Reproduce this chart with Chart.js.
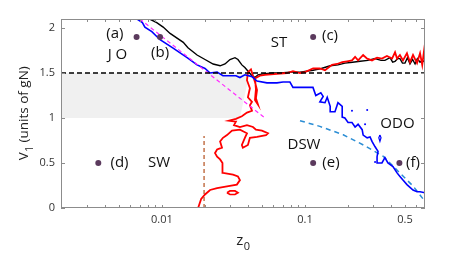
<!DOCTYPE html>
<html>
<head>
<meta charset="utf-8">
<script src="https://cdn.jsdelivr.net/npm/chart.js@4.4.1/dist/chart.umd.min.js"></script>
<style>
  html, body { margin: 0; padding: 0; background: #fff; }
  canvas { display: block; }
</style>
</head>
<body>
<canvas id="chart" width="469" height="256"></canvas>
<script>
// ------------------------------------------------------------
// axes
// ------------------------------------------------------------
const xRange = [0.00197, 0.69];
const yRange = [0, 2.1];
const xTickVals = [0.01, 0.1, 0.5];
const xTickText = ["0.01", "0.1", "0.5"];
const xMinorVals = [0.003, 0.004, 0.005, 0.006, 0.007, 0.008, 0.009,
                    0.02, 0.03, 0.04, 0.05, 0.06, 0.07, 0.08, 0.09,
                    0.2, 0.3, 0.4, 0.5, 0.6];
const yTickVals = [0, 0.5, 1, 1.5, 2];
const yTickText = ["0", "0.5", "1", "1.5", "2"];

// ------------------------------------------------------------
// curves  [z0, V1]
// ------------------------------------------------------------
const blackCurve = [
  [0.0082, 2.10], [0.0092, 2.06], [0.0102, 2.01], [0.0114, 1.94], [0.0141, 1.84],
  [0.0152, 1.78], [0.0176, 1.70], [0.0200, 1.65], [0.0228, 1.60], [0.0255, 1.58],
  [0.0276, 1.60], [0.0299, 1.65], [0.0324, 1.67], [0.0340, 1.65], [0.0362, 1.59],
  [0.0380, 1.56], [0.0400, 1.52], [0.0426, 1.47], [0.0447, 1.45], [0.0469, 1.48],
  [0.0508, 1.49], [0.0590, 1.50], [0.0668, 1.50], [0.0790, 1.51], [0.0923, 1.51],
  [0.1140, 1.53], [0.1300, 1.55], [0.1500, 1.58], [0.1700, 1.59], [0.1900, 1.61],
  [0.2150, 1.62], [0.2430, 1.63], [0.2750, 1.64], [0.3090, 1.66], [0.3400, 1.64],
  [0.3620, 1.64], [0.3930, 1.67], [0.4100, 1.62], [0.4260, 1.63], [0.4450, 1.66],
  [0.4610, 1.66], [0.4800, 1.61], [0.5000, 1.61], [0.5200, 1.67], [0.5420, 1.60],
  [0.5650, 1.65], [0.5880, 1.60], [0.6100, 1.66], [0.6370, 1.62], [0.6600, 1.64],
  [0.6900, 1.62]
];

const redCurve = [
  [0.0179, 0.00], [0.0188, 0.10], [0.0200, 0.15], [0.0217, 0.20], [0.0243, 0.22],
  [0.0285, 0.24], [0.0334, 0.26], [0.0351, 0.31], [0.0340, 0.35], [0.0314, 0.37],
  [0.0267, 0.39], [0.0263, 0.45], [0.0267, 0.50], [0.0255, 0.54], [0.0243, 0.57],
  [0.0235, 0.61], [0.0243, 0.65], [0.0263, 0.67], [0.0255, 0.74], [0.0267, 0.78],
  [0.0285, 0.81], [0.0309, 0.86], [0.0351, 0.87], [0.0393, 0.83], [0.0380, 0.78],
  [0.0362, 0.70], [0.0368, 0.67], [0.0399, 0.70], [0.0412, 0.78], [0.0462, 0.79],
  [0.0534, 0.81], [0.0551, 0.83], [0.0500, 0.86], [0.0454, 0.87], [0.0433, 0.90],
  [0.0393, 0.92], [0.0351, 0.90], [0.0319, 0.92], [0.0329, 0.96], [0.0294, 0.97],
  [0.0329, 0.99], [0.0362, 1.02], [0.0393, 1.06], [0.0426, 1.08], [0.0412, 1.14],
  [0.0426, 1.18], [0.0399, 1.23], [0.0412, 1.33], [0.0393, 1.42], [0.0399, 1.51],
  [0.0419, 1.54], [0.0447, 1.40], [0.0462, 1.31], [0.0454, 1.22], [0.0469, 1.15],
  [0.0447, 1.20], [0.0454, 1.32], [0.0447, 1.44], [0.0484, 1.47], [0.0525, 1.48],
  [0.0637, 1.49], [0.0748, 1.50], [0.0824, 1.52], [0.0923, 1.50], [0.1000, 1.51],
  [0.1140, 1.55], [0.1270, 1.55], [0.1380, 1.53], [0.1545, 1.59], [0.1675, 1.60],
  [0.1820, 1.62], [0.1970, 1.63], [0.2130, 1.64], [0.2240, 1.68], [0.2350, 1.64],
  [0.2550, 1.70], [0.2720, 1.66], [0.2940, 1.64], [0.3190, 1.67], [0.3450, 1.66],
  [0.3740, 1.69], [0.4060, 1.66], [0.4260, 1.73], [0.4400, 1.66], [0.4610, 1.70],
  [0.4840, 1.64], [0.5160, 1.72], [0.5420, 1.62], [0.5690, 1.70], [0.6070, 1.61],
  [0.6370, 1.72], [0.6600, 1.59], [0.6800, 1.75], [0.6900, 1.64]
];
const redBlob = [
  [0.0285, 0.17], [0.0299, 0.19], [0.0324, 0.19], [0.0340, 0.17],
  [0.0324, 0.15], [0.0299, 0.15], [0.0285, 0.17]
];

const blueCurve = [
  [0.0067, 2.10], [0.0073, 2.06], [0.0076, 2.01], [0.0085, 1.96], [0.0097, 1.87],
  [0.0119, 1.78], [0.0150, 1.67], [0.0176, 1.59], [0.0200, 1.55], [0.0217, 1.50],
  [0.0243, 1.51], [0.0267, 1.47], [0.0329, 1.47], [0.0351, 1.45], [0.0380, 1.48],
  [0.0426, 1.46], [0.0462, 1.41], [0.0542, 1.39], [0.0637, 1.39], [0.0702, 1.40],
  [0.0785, 1.40], [0.0824, 1.34], [0.1137, 1.34], [0.119, 1.25], [0.129, 1.28],
  [0.134, 1.24], [0.127, 1.18], [0.138, 1.17], [0.143, 1.23], [0.150, 1.13],
  [0.150, 1.07], [0.162, 1.07], [0.170, 1.17], [0.182, 1.13], [0.182, 1.01],
  [0.190, 1.00], [0.200, 0.95], [0.213, 0.95], [0.224, 0.90], [0.235, 0.93],
  [0.251, 0.87], [0.255, 0.81], [0.272, 0.78], [0.285, 0.79], [0.294, 0.74],
  [0.309, 0.68], [0.324, 0.63], [0.319, 0.57], [0.319, 0.50], [0.345, 0.50],
  [0.362, 0.56], [0.380, 0.50], [0.412, 0.46], [0.440, 0.39], [0.461, 0.35],
  [0.484, 0.31], [0.516, 0.26], [0.542, 0.23], [0.569, 0.20], [0.607, 0.18],
  [0.637, 0.18], [0.690, 0.17]
];
const blueSpecks = [[0.213, 1.08], [0.272, 1.09], [0.263, 0.93], [0.309, 0.51]];
const blueLoop = [[0.334, 0.81], [0.340, 0.78], [0.334, 0.74], [0.328, 0.78], [0.334, 0.81]];

const magentaFit = [[0.0070, 2.10], [0.0525, 1.00]];
const blueFit = [
  [0.0923, 0.97], [0.127, 0.907], [0.185, 0.814], [0.256, 0.70],
  [0.353, 0.573], [0.461, 0.389], [0.572, 0.24], [0.690, 0.073]
];
const brownLine = [[0.0197, 0], [0.0197, 0.80]];
const threshold = 1.5;
const grayBand = [[0.00197, 1.0], [0.00197, 1.5], [0.041, 1.5], [0.035, 1.0]];

// ------------------------------------------------------------
// marked points and region labels
// ------------------------------------------------------------
const markers = [[0.00665, 1.90], [0.0097, 1.90], [0.114, 1.90], [0.00359, 0.50], [0.114, 0.50], [0.457, 0.50]];
const labelText = ["(a)", "J O", "(b)", "ST", "(c)", "(d)", "SW", "DSW", "(e)", "(f)", "ODO"];
const labelPos = [
  [0.00469, 1.94], [0.00489, 1.70], [0.0097, 1.73], [0.0658, 1.84], [0.1496, 1.91],
  [0.00505, 0.50], [0.00953, 0.50], [0.0984, 0.70], [0.152, 0.505], [0.569, 0.505], [0.443, 0.94]
];

const FONT = "'Open Sans', 'DejaVu Sans', sans-serif";

function pts(arr) {
    return arr.map(p => ({ x: p[0], y: p[1] }));
}

function curve(arr, color, width, dash, order) {
    return {
        data: pts(arr),
        showLine: true,
        borderColor: color,
        borderWidth: width,
        borderDash: dash || [],
        pointRadius: 0,
        tension: 0,
        fill: false,
        order: order
    };
}

// ------------------------------------------------------------
// frame, inward ticks, text
// ------------------------------------------------------------
const decor = {
    id: "decor",
    afterDraw(chart) {
        const { ctx, chartArea: a, scales: { x, y } } = chart;
        ctx.save();
        ctx.strokeStyle = "#8c8c8c";
        ctx.lineWidth = 1;
        ctx.strokeRect(a.left + 0.5, a.top + 0.5, a.right - a.left - 1, a.bottom - a.top - 1);

        ctx.beginPath();
        xMinorVals.concat(xTickVals).forEach(v => {
            const px = Math.round(x.getPixelForValue(v)) + 0.5;
            ctx.moveTo(px, a.bottom); ctx.lineTo(px, a.bottom - 3);
            ctx.moveTo(px, a.top); ctx.lineTo(px, a.top + 3);
        });
        yTickVals.forEach(v => {
            const py = Math.round(y.getPixelForValue(v)) + 0.5;
            ctx.moveTo(a.left, py); ctx.lineTo(a.left + 4, py);
            ctx.moveTo(a.right, py); ctx.lineTo(a.right - 4, py);
        });
        ctx.stroke();

        // region labels
        ctx.fillStyle = "#111";
        ctx.font = "15px " + FONT;
        ctx.textAlign = "center";
        ctx.textBaseline = "middle";
        labelText.forEach((t, i) => {
            ctx.fillText(t, x.getPixelForValue(labelPos[i][0]), y.getPixelForValue(labelPos[i][1]));
        });

        // axis titles with subscripts
        const title = (main, sub, rest, cx, cy, rot, size) => {
            const subSize = Math.round(size * 0.75);
            ctx.save();
            ctx.translate(cx, cy);
            ctx.rotate(rot);
            ctx.textAlign = "left";
            ctx.textBaseline = "alphabetic";
            ctx.font = size + "px " + FONT;
            const w1 = ctx.measureText(main).width;
            const w3 = ctx.measureText(rest).width;
            ctx.font = subSize + "px " + FONT;
            const w2 = ctx.measureText(sub).width;
            let sx = -(w1 + w2 + w3) / 2;
            ctx.font = size + "px " + FONT;
            ctx.fillText(main, sx, 0);
            ctx.font = subSize + "px " + FONT;
            ctx.fillText(sub, sx + w1 + 0.5, 5);
            ctx.font = size + "px " + FONT;
            ctx.fillText(rest, sx + w1 + w2 + 0.5, 0);
            ctx.restore();
        };
        ctx.fillStyle = "#222";
        title("z", "0", "", (a.left + a.right) / 2, 245, 0, 15);
        title("V", "1", " (units of gN)", 28, (a.top + a.bottom) / 2, -Math.PI / 2, 13.5);
        ctx.restore();
    }
};

// ------------------------------------------------------------
// chart
// ------------------------------------------------------------
const ctx = document.getElementById("chart").getContext("2d");

new Chart(ctx, {
    type: "scatter",
    data: {
        datasets: [
            {
                data: pts(markers),
                pointRadius: 3,
                pointBackgroundColor: "#5b3a5d",
                pointBorderWidth: 0,
                showLine: false,
                order: 0
            },
            curve([[xRange[0], threshold], [xRange[1], threshold]], "#000", 1.3, [5, 3], 1),
            curve(magentaFit, "#ff2bff", 1.2, [4, 3], 2),
            curve(blueCurve, "#0000ff", 1.6, null, 3),
            curve(blueLoop, "#0000ff", 1.2, null, 3),
            {
                data: pts(blueSpecks),
                pointRadius: 1,
                pointBackgroundColor: "#0000ff",
                pointBorderWidth: 0,
                showLine: false,
                order: 3
            },
            curve(redCurve, "#ff0000", 1.8, null, 4),
            curve(redBlob, "#ff0000", 1.7, null, 4),
            curve(blackCurve, "#000", 1.4, null, 5),
            curve(blueFit, "#2a8dd4", 1.5, [5, 4], 6),
            curve(brownLine, "#b4501e", 1.2, [4, 3], 6),
            {
                data: pts(grayBand),
                showLine: true,
                borderWidth: 0,
                borderColor: "rgba(0,0,0,0)",
                backgroundColor: "#f0f0f0",
                pointRadius: 0,
                fill: "shape",
                order: 10
            }
        ]
    },
    options: {
        responsive: false,
        animation: false,
        devicePixelRatio: 1,
        layout: { padding: { left: 0, right: 44, top: 19, bottom: 0 } },
        plugins: {
            legend: { display: false },
            tooltip: { enabled: false }
        },
        scales: {
            x: {
                type: "logarithmic",
                position: "bottom",
                min: xRange[0],
                max: xRange[1],
                afterBuildTicks: s => { s.ticks = xTickVals.map(v => ({ value: v })); },
                afterFit: s => { s.height = 48; },
                grid: { display: false, drawTicks: false },
                border: { display: false },
                ticks: {
                    autoSkip: false,
                    maxRotation: 0,
                    padding: 5,
                    color: "#333",
                    font: { family: FONT, size: 11 },
                    callback: v => xTickText[xTickVals.indexOf(v)]
                }
            },
            y: {
                type: "linear",
                min: yRange[0],
                max: yRange[1],
                afterBuildTicks: s => { s.ticks = yTickVals.map(v => ({ value: v })); },
                afterFit: s => { s.width = 61; },
                grid: { display: false, drawTicks: false },
                border: { display: false },
                ticks: {
                    padding: 6,
                    color: "#333",
                    font: { family: FONT, size: 11 },
                    callback: v => yTickText[yTickVals.indexOf(v)]
                }
            }
        }
    },
    plugins: [decor]
});
</script>
</body>
</html>
